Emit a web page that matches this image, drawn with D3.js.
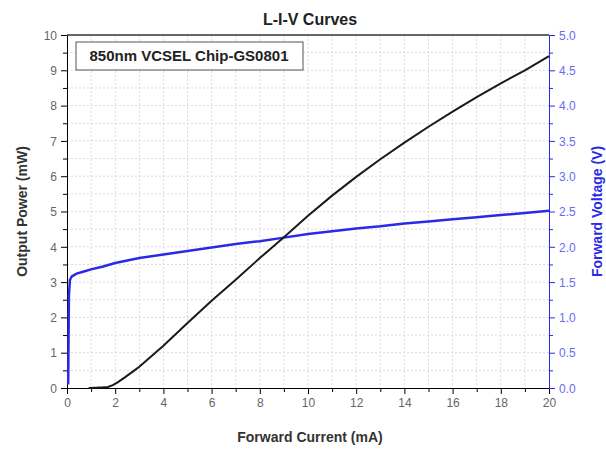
<!DOCTYPE html>
<html>
<head>
<meta charset="utf-8">
<script src="https://cdn.jsdelivr.net/npm/d3@7"></script>
<style>
  body { margin: 0; background: #fff; }
  text { font-family: "Liberation Sans", Arial, sans-serif; }
</style>
</head>
<body>
<script>
// L-I data (output power vs current)
var lCurrent = [0.9, 1.2, 1.5, 1.7, 1.9, 2.1, 2.4, 2.8, 3, 4, 5, 6, 7, 8, 9, 10, 11, 12, 13, 14, 15, 16, 17, 18, 19, 20]
var power = [0, 0.01, 0.02, 0.03, 0.08, 0.16, 0.3, 0.5, 0.6, 1.2, 1.84, 2.47, 3.07, 3.68, 4.27, 4.88, 5.45, 5.98, 6.48, 6.95, 7.4, 7.83, 8.24, 8.63, 9.0, 9.4]
// V-I data (forward voltage vs current)
var vCurrent = [0.05, 0.06, 0.07, 0.08, 0.12, 0.2, 0.4, 0.7, 1, 1.5, 2, 3, 4, 5, 6, 7, 8, 9, 10, 11, 12, 13, 14, 15, 16, 17, 18, 19, 20]
var voltage = [0.05, 0.5, 0.9, 1.3, 1.53, 1.58, 1.62, 1.65, 1.68, 1.72, 1.77, 1.84, 1.89, 1.94, 1.99, 2.04, 2.08, 2.13, 2.18, 2.22, 2.26, 2.29, 2.33, 2.36, 2.39, 2.42, 2.45, 2.48, 2.51]

var xTicks = [0, 2, 4, 6, 8, 10, 12, 14, 16, 18, 20]
var yTicks = [0, 1, 2, 3, 4, 5, 6, 7, 8, 9, 10]
var vTicks = [0, 0.5, 1, 1.5, 2, 2.5, 3, 3.5, 4, 4.5, 5]

var pLeft = 67, pRight = 549, pTop = 35, pBottom = 388
var blue = "#2a2ae6"

var svg = d3.select("body").append("svg")
  .attr("width", 606)
  .attr("height", 449)

var x = d3.scaleLinear().domain([0, 20]).range([pLeft, pRight])
var y = d3.scaleLinear().domain([0, 10]).range([pBottom, pTop])
var yv = d3.scaleLinear().domain([0, 5]).range([pBottom, pTop])

// grid
var grid = svg.append("g")
  .attr("stroke", "#dadada")
  .attr("stroke-dasharray", "2,2")
  .attr("stroke-width", 1)
grid.selectAll("line.gx")
  .data(d3.range(1, 20))
  .enter().append("line")
    .attr("x1", function (d) { return x(d) })
    .attr("x2", function (d) { return x(d) })
    .attr("y1", pTop).attr("y2", pBottom)
grid.selectAll("line.gy")
  .data(d3.range(1, 20).map(function (d) { return d / 2 }))
  .enter().append("line")
    .attr("y1", function (d) { return y(d) })
    .attr("y2", function (d) { return y(d) })
    .attr("x1", pLeft).attr("x2", pRight)

// axes
var xAxis = svg.append("g")
  .attr("transform", "translate(0," + pBottom + ")")
  .call(d3.axisBottom(x).tickValues(d3.range(0, 21)).tickSize(5).tickFormat(""))
xAxis.selectAll(".tick line")
  .attr("y2", function (d) { return d % 2 === 0 ? 6 : 4 })
xAxis.selectAll(".tick")
  .filter(function (d) { return xTicks.indexOf(d) >= 0 })
  .append("text")
    .attr("y", 19).attr("fill", "#666").attr("font-size", 12)
    .attr("text-anchor", "middle")
    .text(function (d) { return d })

var yAxis = svg.append("g")
  .attr("transform", "translate(" + pLeft + ",0)")
  .call(d3.axisLeft(y).tickValues(d3.range(0, 21).map(function (d) { return d / 2 })).tickSize(5).tickFormat(""))
yAxis.selectAll(".tick line")
  .attr("x2", function (d) { return d % 1 === 0 ? -6 : -4 })
yAxis.selectAll(".tick")
  .filter(function (d) { return yTicks.indexOf(d) >= 0 })
  .append("text")
    .attr("x", -10).attr("dy", "0.35em").attr("fill", "#666").attr("font-size", 12)
    .attr("text-anchor", "end")
    .text(function (d) { return d })

var vAxis = svg.append("g")
  .attr("transform", "translate(" + pRight + ",0)")
  .call(d3.axisRight(yv).tickValues(d3.range(0, 21).map(function (d) { return d / 4 })).tickSize(5).tickFormat(""))
vAxis.selectAll(".tick line").attr("stroke", blue)
  .attr("x2", function (d) { return vTicks.indexOf(d) >= 0 ? 6 : 4 })
vAxis.select(".domain").attr("stroke", blue)
vAxis.selectAll(".tick")
  .filter(function (d) { return vTicks.indexOf(d) >= 0 })
  .append("text")
    .attr("x", 10).attr("dy", "0.35em").attr("fill", "#6b6bf0").attr("font-size", 12)
    .attr("text-anchor", "start")
    .text(function (d) { return d3.format(".1f")(d) })

// top border
svg.append("line")
  .attr("x1", pLeft).attr("x2", pRight).attr("y1", pTop).attr("y2", pTop)
  .attr("stroke", "#333").attr("stroke-width", 1.5)

// curves
var lineL = d3.line()
  .x(function (d) { return x(d[0]) })
  .y(function (d) { return y(d[1]) })
var lineV = d3.line()
  .x(function (d) { return x(d[0]) })
  .y(function (d) { return yv(d[1]) })

svg.append("path")
  .datum(d3.zip(vCurrent, voltage))
  .attr("d", lineV)
  .attr("fill", "none").attr("stroke", blue).attr("stroke-width", 2.5)

svg.append("path")
  .datum(d3.zip(lCurrent, power))
  .attr("d", lineL)
  .attr("fill", "none").attr("stroke", "#1a1a1a").attr("stroke-width", 2)

// legend box
svg.append("rect")
  .attr("x", 76).attr("y", 42).attr("width", 227).attr("height", 28)
  .attr("fill", "#fff").attr("stroke", "#555").attr("stroke-width", 1)
svg.append("text")
  .attr("x", 189).attr("y", 61).attr("text-anchor", "middle")
  .attr("font-size", 15).attr("font-weight", "bold").attr("fill", "#222")
  .text("850nm VCSEL Chip-GS0801")

// titles
svg.append("text")
  .attr("x", 310).attr("y", 25).attr("text-anchor", "middle")
  .attr("font-size", 16).attr("font-weight", "bold").attr("fill", "#222")
  .text("L-I-V Curves")
svg.append("text")
  .attr("x", 310).attr("y", 442).attr("text-anchor", "middle")
  .attr("font-size", 14).attr("font-weight", "bold").attr("fill", "#333")
  .text("Forward Current (mA)")
svg.append("text")
  .attr("transform", "translate(27," + (pTop + pBottom) / 2 + ") rotate(-90)")
  .attr("text-anchor", "middle")
  .attr("font-size", 14).attr("font-weight", "bold").attr("fill", "#333")
  .text("Output Power (mW)")
svg.append("text")
  .attr("transform", "translate(602," + (pTop + pBottom) / 2 + ") rotate(-90)")
  .attr("text-anchor", "middle")
  .attr("font-size", 14).attr("font-weight", "bold").attr("fill", blue)
  .text("Forward Voltage (V)")
</script>
</body>
</html>
